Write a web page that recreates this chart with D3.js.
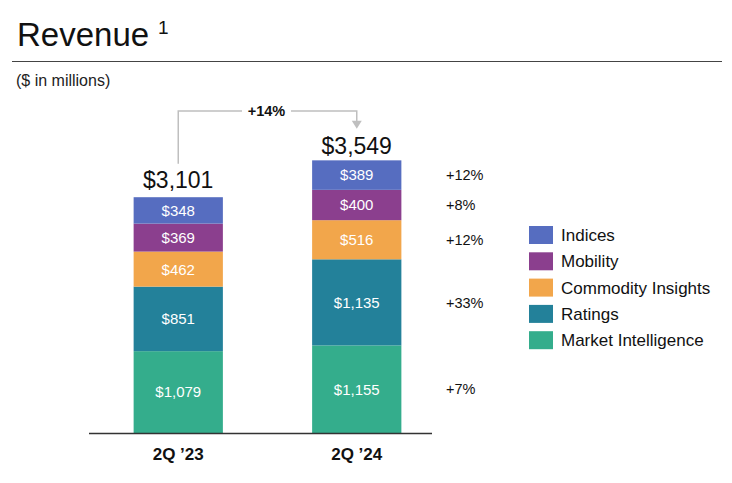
<!DOCTYPE html>
<html>
<head>
    <title>Revenue</title>
    <script src="https://d3js.org/d3.v7.min.js"></script>
    <style>
        body { margin: 0; font-family: "Liberation Sans", Arial, sans-serif; background: #fff; }
    </style>
</head>
<body style="overflow: hidden;">
<script>
    // chart data
    var periods = ["2Q \u201923", "2Q \u201924"];
    var segments = ["Market Intelligence", "Ratings", "Commodity Insights", "Mobility", "Indices"];
    var values2Q23 = [1079, 851, 462, 369, 348];
    var values2Q24 = [1155, 1135, 516, 400, 389];
    var totals = [3101, 3549];
    var growth = ["+7%", "+33%", "+12%", "+8%", "+12%"];
    var totalGrowth = "+14%";
    var legendOrder = ["Indices", "Mobility", "Commodity Insights", "Ratings", "Market Intelligence"];
    var colors = ["#34ad8c", "#23819a", "#f2a64b", "#8b3f8e", "#566dc0"];

    var width = 732, height = 483;
    var svg = d3.select("body").append("svg")
        .attr("width", width)
        .attr("height", height);

    // title
    svg.append("text").attr("x", 17).attr("y", 46)
        .style("font-size", "33px").attr("fill", "#111").text("Revenue");
    svg.append("text").attr("x", 158).attr("y", 34)
        .style("font-size", "19px").attr("fill", "#111").text("1");
    svg.append("line").attr("x1", 12).attr("x2", 722).attr("y1", 61.5).attr("y2", 61.5)
        .attr("stroke", "#444").attr("stroke-width", 1.2);
    svg.append("text").attr("x", 16).attr("y", 86)
        .style("font-size", "16px").attr("fill", "#222").text("($ in millions)");

    // scales
    var x = d3.scaleBand().domain(periods).range([89, 446]).paddingInner(0.5).paddingOuter(0.25);
    var y = d3.scaleLinear().domain([0, 3560]).range([433, 163]);
    var color = d3.scaleOrdinal().domain(segments).range(colors);

    var rows = periods.map(function(p, i) {
        var vals = i === 0 ? values2Q23 : values2Q24;
        var r = { period: p };
        segments.forEach(function(s, j) { r[s] = vals[j]; });
        return r;
    });
    var stacked = d3.stack().keys(segments)(rows);

    var layer = svg.selectAll(".layer").data(stacked).enter().append("g")
        .attr("class", "layer")
        .attr("fill", function(d) { return color(d.key); });

    layer.selectAll("rect").data(function(d) { return d; }).enter().append("rect")
        .attr("x", function(d) { return x(d.data.period); })
        .attr("width", x.bandwidth())
        .attr("y", function(d) { return y(d[1]); })
        .attr("height", function(d) { return y(d[0]) - y(d[1]); });

    layer.selectAll("text").data(function(d) { return d; }).enter().append("text")
        .attr("x", function(d) { return x(d.data.period) + x.bandwidth() / 2; })
        .attr("y", function(d) { return (y(d[0]) + y(d[1])) / 2; })
        .attr("dy", "0.36em")
        .attr("text-anchor", "middle")
        .attr("fill", "#fff")
        .style("font-size", "15px")
        .text(function(d) { return "$" + d3.format(",")(d[1] - d[0]); });

    // totals
    svg.selectAll(".total").data(totals).enter().append("text")
        .attr("class", "total")
        .attr("x", function(d, i) { return x(periods[i]) + x.bandwidth() / 2; })
        .attr("y", function(d) { return y(d) - 10; })
        .attr("text-anchor", "middle")
        .attr("fill", "#111")
        .style("font-size", "23px")
        .text(function(d) { return "$" + d3.format(",")(d); });

    // baseline axis
    svg.append("line").attr("x1", 89).attr("x2", 432).attr("y1", y(0) + 0.5).attr("y2", y(0) + 0.5)
        .attr("stroke", "#333").attr("stroke-width", 1.3);
    svg.selectAll(".cat").data(periods).enter().append("text")
        .attr("x", function(d) { return x(d) + x.bandwidth() / 2; })
        .attr("y", 460)
        .attr("text-anchor", "middle")
        .attr("fill", "#111")
        .style("font-size", "17px").style("font-weight", "bold")
        .text(function(d) { return d; });

    // growth bracket
    var cx1 = x(periods[0]) + x.bandwidth() / 2;
    var cx2 = x(periods[1]) + x.bandwidth() / 2;
    var by = 111;
    svg.append("path")
        .attr("d", "M" + cx1 + "," + (y(totals[0]) - 34) + "V" + by + "H242")
        .attr("fill", "none").attr("stroke", "#bfbfbf").attr("stroke-width", 1.5);
    svg.append("path")
        .attr("d", "M291," + by + "H" + cx2 + "V" + (y(totals[1]) - 42))
        .attr("fill", "none").attr("stroke", "#bfbfbf").attr("stroke-width", 1.5);
    svg.append("path")
        .attr("d", "M" + (cx2 - 5) + "," + (y(totals[1]) - 43) + "L" + (cx2 + 5) + "," + (y(totals[1]) - 43) + "L" + cx2 + "," + (y(totals[1]) - 35) + "Z")
        .attr("fill", "#bfbfbf");
    svg.append("text").attr("x", (242 + 291) / 2).attr("y", by + 5)
        .attr("text-anchor", "middle").attr("fill", "#111")
        .style("font-size", "14.5px").style("font-weight", "bold")
        .text(totalGrowth);

    // segment growth labels beside 2Q '24
    svg.selectAll(".growth").data(stacked).enter().append("text")
        .attr("class", "growth")
        .attr("x", 446)
        .attr("y", function(d, i) { return (y(d[1][0]) + y(d[1][1])) / 2; })
        .attr("dy", "0.36em")
        .attr("fill", "#111")
        .style("font-size", "14.5px")
        .text(function(d, i) { return growth[i]; });

    // legend
    var legend = svg.selectAll(".legend").data(legendOrder).enter().append("g")
        .attr("class", "legend")
        .attr("transform", function(d, i) { return "translate(529," + (235 + i * 26.3) + ")"; });
    legend.append("rect").attr("x", 0).attr("y", -9).attr("width", 24).attr("height", 18)
        .attr("fill", function(d) { return color(d); });
    legend.append("text").attr("x", 32).attr("dy", "0.36em")
        .attr("fill", "#111").style("font-size", "17px")
        .text(function(d) { return d; });
</script>
</body>
</html>
